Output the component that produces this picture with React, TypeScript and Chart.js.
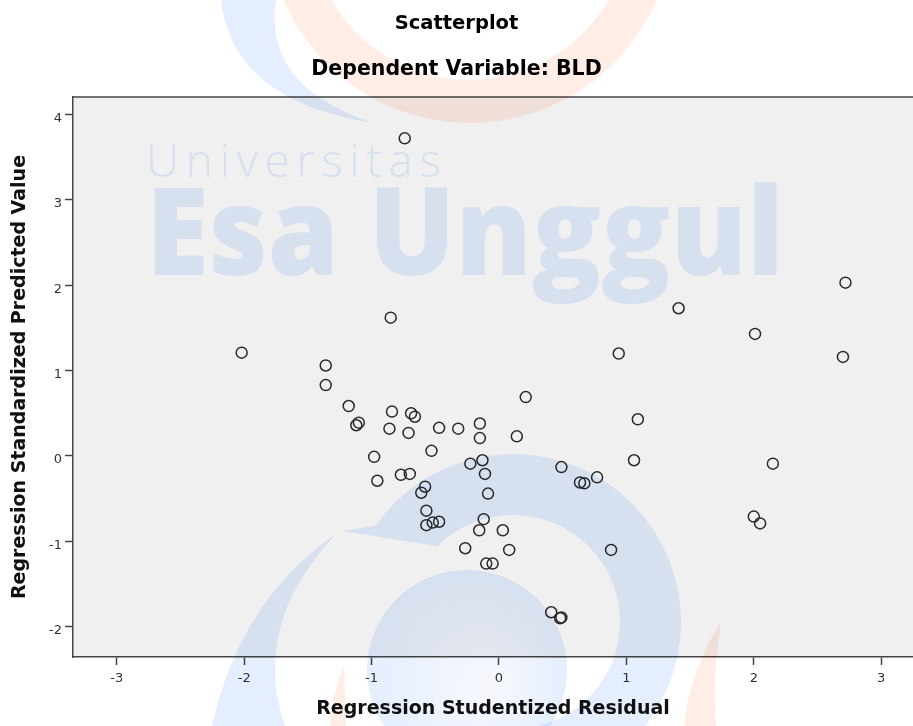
import React, { useEffect, useRef } from "react";
import { Chart, registerables } from "chart.js";

Chart.register(...registerables);

// ---- data ----
const residuals: number[] = [
  -0.74, -0.85, -2.02, -1.36, 2.72, 1.41, 2.01, 0.94, 2.7, -1.36,
  -1.18, -0.84, -0.69, -0.66, -1.1, -1.12, -0.86, -0.71, -0.47, -0.32,
  -0.15, -0.15, -0.53, -0.98, -0.13, -0.225, -0.11, -0.77, -0.7, -0.955,
  -0.58, -0.61, -0.086, -0.57, -0.52, -0.47, -0.57, -0.12, -0.155, -0.265,
  -0.1, -0.05, 0.21, 1.09, 0.14, 1.06, 2.15, 0.49, 0.77, 0.636,
  0.67, 2.0, 2.05, 0.03, 0.08, 0.88, 0.41, 0.48, 0.49,
];
const predicted: number[] = [
  3.72, 1.62, 1.21, 1.06, 2.03, 1.73, 1.43, 1.2, 1.16, 0.83,
  0.585, 0.52, 0.5, 0.46, 0.39, 0.36, 0.32, 0.27, 0.33, 0.32,
  0.38, 0.21, 0.06, -0.01, -0.05, -0.09, -0.21, -0.22, -0.21, -0.29,
  -0.36, -0.43, -0.44, -0.64, -0.78, -0.77, -0.81, -0.74, -0.87, -1.08,
  -1.26, -1.26, 0.69, 0.43, 0.23, -0.05, -0.09, -0.13, -0.25, -0.31,
  -0.32, -0.71, -0.79, -0.87, -1.1, -1.1, -1.83, -1.9, -1.89,
];
const xTickValues: number[] = [-3, -2, -1, 0, 1, 2, 3];
const yTickValues: number[] = [-2, -1, 0, 1, 2, 3, 4];
const xRange: number[] = [-3.344, 3.25];
const yRange: number[] = [-2.354, 4.204];

const titleText = "Scatterplot";
const subtitleText = "Dependent Variable: BLD";
const xAxisTitle = "Regression Studentized Residual";
const yAxisTitle = "Regression Standardized Predicted Value";
const watermarkSmall = "Universitas";
const watermarkBig = "Esa Unggul";

const FAMILY = "'DejaVu Sans', Verdana, sans-serif";
const TICK_FONT = { family: FAMILY, size: 13 };
const FRAME = "#444444";

function drawWatermark(ctx: CanvasRenderingContext2D) {
  const blue = "#e4eefe";
  const orange = "#ffede6";
  ctx.save();
  ctx.globalCompositeOperation = "multiply";

  // orange ring at the top
  ctx.fillStyle = orange;
  ctx.beginPath();
  ctx.arc(470, -80, 203, 0, Math.PI * 2);
  ctx.moveTo(470 + 160, -80);
  ctx.arc(470, -80, 160, 0, Math.PI * 2, true);
  ctx.fill();

  // blue swoosh top-left
  ctx.fillStyle = blue;
  ctx.beginPath();
  ctx.moveTo(221, 0);
  ctx.quadraticCurveTo(232, 100, 372, 123);
  ctx.quadraticCurveTo(262, 85, 276, 0);
  ctx.closePath();
  ctx.fill();

  // blue ring lower middle, tapering to a tip on the left
  const d = Math.PI / 180;
  ctx.beginPath();
  ctx.moveTo(343, 531);
  ctx.arc(513, 622, 168, 215 * d, 440 * d);
  ctx.arc(513, 622, 107, 440 * d, 225 * d, true);
  ctx.closePath();
  ctx.fill();

  // left crescent at the bottom
  ctx.beginPath();
  ctx.moveTo(212, 726);
  ctx.quadraticCurveTo(240, 600, 336, 534);
  ctx.quadraticCurveTo(250, 625, 285, 726);
  ctx.closePath();
  ctx.fill();

  // disk at the bottom
  const g = ctx.createRadialGradient(490, 690, 5, 467, 670, 100);
  g.addColorStop(0, "#f6f8fd");
  g.addColorStop(1, "#e4eefe");
  ctx.fillStyle = g;
  ctx.beginPath();
  ctx.arc(467, 670, 100, 0, Math.PI * 2);
  ctx.fill();

  // orange streaks at the bottom
  ctx.fillStyle = orange;
  ctx.beginPath();
  ctx.moveTo(721, 622);
  ctx.quadraticCurveTo(712, 680, 716, 726);
  ctx.lineTo(684, 726);
  ctx.quadraticCurveTo(690, 670, 721, 622);
  ctx.closePath();
  ctx.fill();
  ctx.beginPath();
  ctx.moveTo(344, 665);
  ctx.lineTo(346, 726);
  ctx.lineTo(330, 726);
  ctx.quadraticCurveTo(333, 690, 344, 665);
  ctx.closePath();
  ctx.fill();

  // text
  ctx.fillStyle = blue;
  ctx.textBaseline = "alphabetic";
  ctx.textAlign = "left";
  ctx.font = "300 46px 'Open Sans', 'Noto Sans', sans-serif";
  const w1 = ctx.measureText(watermarkSmall).width;
  const spacing = (295 - w1) / (watermarkSmall.length - 1);
  (ctx as any).letterSpacing = `${spacing}px`;
  ctx.fillText(watermarkSmall, 146, 177);
  (ctx as any).letterSpacing = "0px";

  ctx.font = "800 123px 'Open Sans', 'Noto Sans', sans-serif";
  const w2 = ctx.measureText(watermarkBig).width;
  ctx.save();
  ctx.translate(146, 275);
  ctx.scale(638 / w2, 1);
  ctx.fillText(watermarkBig, 0, 0);
  ctx.restore();

  ctx.restore();
}

const plotDecor = {
  id: "plotDecor",
  beforeDraw(chart: any) {
    const { ctx, chartArea: a } = chart;
    ctx.save();
    ctx.fillStyle = "#f0f0f0";
    ctx.fillRect(a.left, a.top, a.right - a.left, a.bottom - a.top);
    ctx.restore();
  },
  beforeDatasetsDraw(chart: any) {
    const { ctx, chartArea: a } = chart;
    ctx.save();
    ctx.strokeStyle = FRAME;
    ctx.lineWidth = 1.5;
    ctx.beginPath();
    ctx.moveTo(a.left, a.top);
    ctx.lineTo(a.right, a.top);
    ctx.stroke();
    ctx.restore();
  },
  afterDraw(chart: any) {
    drawWatermark(chart.ctx);
  },
};

export default function App() {
  const canvasRef = useRef<HTMLCanvasElement | null>(null);

  useEffect(() => {
    document.body.style.margin = "0";
    const canvas = canvasRef.current;
    if (!canvas) return;
    const points = residuals.map((x, i) => ({ x, y: predicted[i] }));
    const chart = new Chart(canvas, {
      type: "scatter",
      data: {
        datasets: [
          {
            data: points,
            pointRadius: 5.5,
            pointHoverRadius: 5.5,
            pointBorderWidth: 1.5,
            pointBorderColor: "#2a2a2a",
            pointBackgroundColor: "rgba(0,0,0,0)",
            showLine: false,
          },
        ],
      },
      options: {
        animation: false,
        responsive: false,
        maintainAspectRatio: false,
        events: [],
        layout: { padding: 0, autoPadding: false },
        plugins: {
          legend: { display: false },
          tooltip: { enabled: false },
          title: {
            display: true,
            text: titleText,
            font: { family: FAMILY, size: 19.5, weight: "bold" },
            color: "#000",
            padding: { top: 12, bottom: 0 },
          },
          subtitle: {
            display: true,
            text: subtitleText,
            font: { family: FAMILY, size: 20.5, weight: "bold" },
            color: "#000",
            padding: { top: 22, bottom: 15 },
          },
        },
        scales: {
          x: {
            type: "linear",
            min: xRange[0],
            max: xRange[1],
            afterBuildTicks: (s: any) => {
              s.ticks = xTickValues.map((v) => ({ value: v }));
            },
            afterFit: (s: any) => {
              s.height = 69;
              s.paddingLeft = 0;
              s.paddingRight = 0;
            },
            border: { display: true, color: FRAME, width: 1.5 },
            grid: {
              display: true,
              drawOnChartArea: false,
              drawTicks: true,
              tickLength: 8,
              tickColor: FRAME,
              tickWidth: 1.5,
            },
            ticks: { font: TICK_FONT, color: "#333", padding: 6, maxRotation: 0, autoSkip: false },
            title: {
              display: true,
              text: xAxisTitle,
              font: { family: FAMILY, size: 19, weight: "bold" },
              color: "#111",
              padding: { top: 0, bottom: 6 },
            },
          },
          y: {
            type: "linear",
            min: yRange[0],
            max: yRange[1],
            afterBuildTicks: (s: any) => {
              s.ticks = yTickValues.map((v) => ({ value: v }));
            },
            afterFit: (s: any) => {
              s.width = 73;
              s.paddingTop = 0;
              s.paddingBottom = 0;
            },
            border: { display: true, color: FRAME, width: 1.5 },
            grid: {
              display: true,
              drawOnChartArea: false,
              drawTicks: true,
              tickLength: 8,
              tickColor: FRAME,
              tickWidth: 1.5,
            },
            ticks: { font: TICK_FONT, color: "#333", padding: 3, labelOffset: 4, autoSkip: false },
            title: {
              display: true,
              text: yAxisTitle,
              font: { family: FAMILY, size: 19, weight: "bold" },
              color: "#111",
              padding: { top: 9, bottom: 0 },
            },
          },
        },
      },
      plugins: [plotDecor],
    });
    return () => chart.destroy();
  }, []);

  return (
    <div style={{ width: 913, height: 726, position: "relative" }}>
      <canvas ref={canvasRef} width={913} height={726} style={{ display: "block" }} />
    </div>
  );
}
